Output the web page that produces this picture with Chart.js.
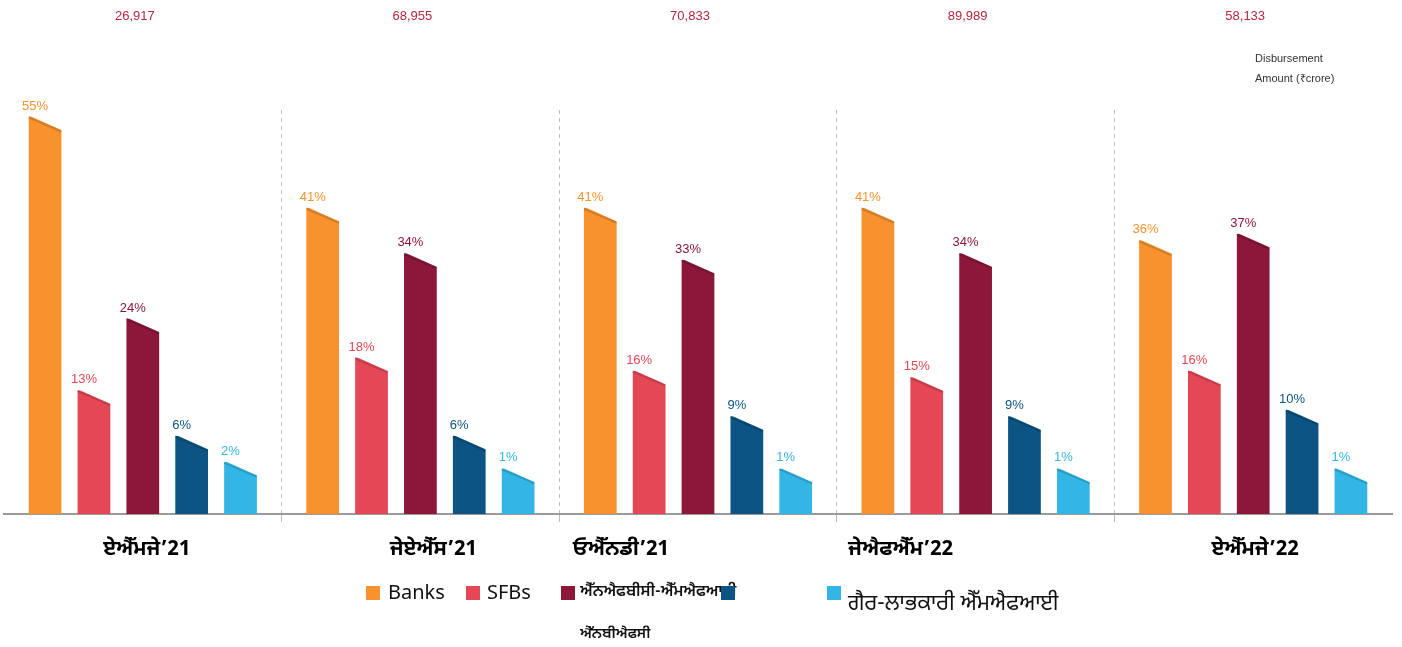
<!DOCTYPE html>
<html>
<head>
<meta charset="utf-8">
<script src="https://cdn.jsdelivr.net/npm/chart.js@4.4.1/dist/chart.umd.min.js"></script>
<style>
  html, body { margin: 0; padding: 0; background: #fff; }
  #wrap { position: relative; width: 1402px; height: 647px; overflow: hidden; }
  #chart { position: absolute; left: 0; top: 0; }
  .note { position: absolute; left: 1255px; top: 48px; font: 11px "Liberation Sans", Arial, sans-serif; color: #333; line-height: 20px; }
  .lg { position: absolute; font-family: "Noto Sans Gurmukhi", "Open Sans", "Noto Sans", sans-serif; color: #111; white-space: nowrap; }
  .sq { position: absolute; width: 14px; height: 14px; }
</style>
</head>
<body>
<div id="wrap">
  <canvas id="chart" width="1402" height="647"></canvas>
  <div class="note">Disbursement<br>Amount (₹crore)</div>
  <div id="legend"></div>
</div>
<script>
// ---- data ----
const categories = ["ਏਐੱਮਜੇ’21", "ਜੇਏਐੱਸ’21", "ਓਐੱਨਡੀ’21", "ਜੇਐਫਐੱਮ’22", "ਏਐੱਮਜੇ’22"];
const disbursement = ["26,917", "68,955", "70,833", "89,989", "58,133"];
const seriesNames = ["Banks", "SFBs", "ਐੱਨਐਫਬੀਸੀ-ਐੱਮਐਫਆਈ", "ਐੱਨਬੀਐਫਸੀ", "ਗੈਰ-ਲਾਭਕਾਰੀ ਐੱਮਐਫਆਈ"];
const banks     = [55, 41, 41, 41, 36];
const sfbs      = [13, 18, 16, 15, 16];
const nbfcMfi   = [24, 34, 33, 34, 37];
const nbfc      = [6, 6, 9, 9, 10];
const nonProfit = [2, 1, 1, 1, 1];
const seriesColors = ["#F7922E", "#E44755", "#8C1739", "#0B5483", "#33B6E6"];

// ---- layout (styling only) ----
const categoryLabelShift = [4, 13, -77, -75, 2];
const BASE = -6;
const seriesValues = [banks, sfbs, nbfcMfi, nbfc, nonProfit];

const slantPlugin = {
  id: 'slant',
  afterDatasetsDraw(chart) {
    const ctx = chart.ctx;
    ctx.save();
    chart.data.datasets.forEach((ds, di) => {
      const meta = chart.getDatasetMeta(di);
      meta.data.forEach((bar) => {
        const l = bar.x - bar.width / 2, r = bar.x + bar.width / 2, t = bar.y;
        const drop = 14;
        ctx.fillStyle = '#ffffff';
        ctx.beginPath();
        ctx.moveTo(l, t - 1);
        ctx.lineTo(r + 1, t - 1);
        ctx.lineTo(r + 1, t + drop);
        ctx.closePath();
        ctx.fill();
        ctx.strokeStyle = 'rgba(0,0,0,0.15)';
        ctx.lineWidth = 2;
        ctx.beginPath();
        ctx.moveTo(l, t + 1);
        ctx.lineTo(r, t + drop + 1);
        ctx.stroke();
      });
    });
    ctx.restore();
  }
};

const labelPlugin = {
  id: 'labels',
  afterDatasetsDraw(chart) {
    const ctx = chart.ctx;
    ctx.save();
    ctx.font = '13px "Liberation Sans", Arial, sans-serif';
    ctx.textAlign = 'center';
    ctx.textBaseline = 'alphabetic';
    chart.data.datasets.forEach((ds, di) => {
      const meta = chart.getDatasetMeta(di);
      ctx.fillStyle = ds.backgroundColor;
      meta.data.forEach((bar, i) => {
        ctx.fillText(ds.data[i] + '%', bar.x - 10, bar.y - 7);
      });
    });
    const xs = chart.scales.x;
    ctx.fillStyle = '#B3283E';
    ctx.textBaseline = 'middle';
    disbursement.forEach((t, i) => {
      ctx.fillText(t, xs.getPixelForValue(i) - 8, 16);
    });
    ctx.fillStyle = '#000';
    ctx.font = 'bold 21px "Noto Sans Gurmukhi", "Noto Sans", sans-serif';
    categories.forEach((c, i) => {
      ctx.fillText(c, xs.getPixelForValue(i) + categoryLabelShift[i], 551);
    });
    ctx.restore();
  }
};

const chart = new Chart(document.getElementById('chart'), {
  type: 'bar',
  data: {
    labels: categories,
    datasets: seriesNames.map((n, i) => ({
      label: n,
      data: seriesValues[i],
      backgroundColor: seriesColors[i],
      base: BASE,
      categoryPercentage: 0.88,
      barPercentage: 0.67
    }))
  },
  options: {
    responsive: false,
    animation: false,
    layout: { padding: { top: 110, left: 4, right: 10, bottom: 125 } },
    plugins: { legend: { display: false }, tooltip: { enabled: false } },
    scales: {
      x: {
        grid: {
          offset: true,
          color: (c) => (c.index === 0 || c.index === undefined) ? 'rgba(0,0,0,0)' : '#BDBDBD',
          tickColor: (c) => (c.index === 0 || c.index === undefined) ? 'rgba(0,0,0,0)' : '#BDBDBD',
          lineWidth: 1,
          tickLength: 8,
          tickBorderDash: []
        },
        border: { display: true, color: '#9A9A9A', width: 2, dash: [4, 4] },
        ticks: { display: false }
      },
      y: { display: false, min: BASE, max: 56 }
    }
  },
  plugins: [slantPlugin, labelPlugin]
});

// ---- HTML legend built from the series ----
const legendLayout = [
  { sq: [366, 586], tx: [388, 581], size: 20 },
  { sq: [466, 586], tx: [487, 581], size: 20 },
  { sq: [561, 586], tx: [580, 582], size: 16, weight: 600 },
  { sq: [721, 586], tx: [580, 625], size: 15, weight: 600 },
  { sq: [827, 586], tx: [848, 590], size: 22 }
];
const lg = document.getElementById('legend');
seriesNames.forEach((n, i) => {
  const L = legendLayout[i];
  const t = document.createElement('div');
  t.className = 'lg';
  t.textContent = n;
  t.style.left = L.tx[0] + 'px'; t.style.top = L.tx[1] + 'px';
  t.style.fontSize = L.size + 'px';
  if (L.weight) t.style.fontWeight = L.weight;
  const s = document.createElement('div');
  s.className = 'sq';
  s.style.left = L.sq[0] + 'px'; s.style.top = L.sq[1] + 'px';
  s.style.background = seriesColors[i];
  lg.appendChild(t);
  lg.appendChild(s);
});
</script>
</body>
</html>
